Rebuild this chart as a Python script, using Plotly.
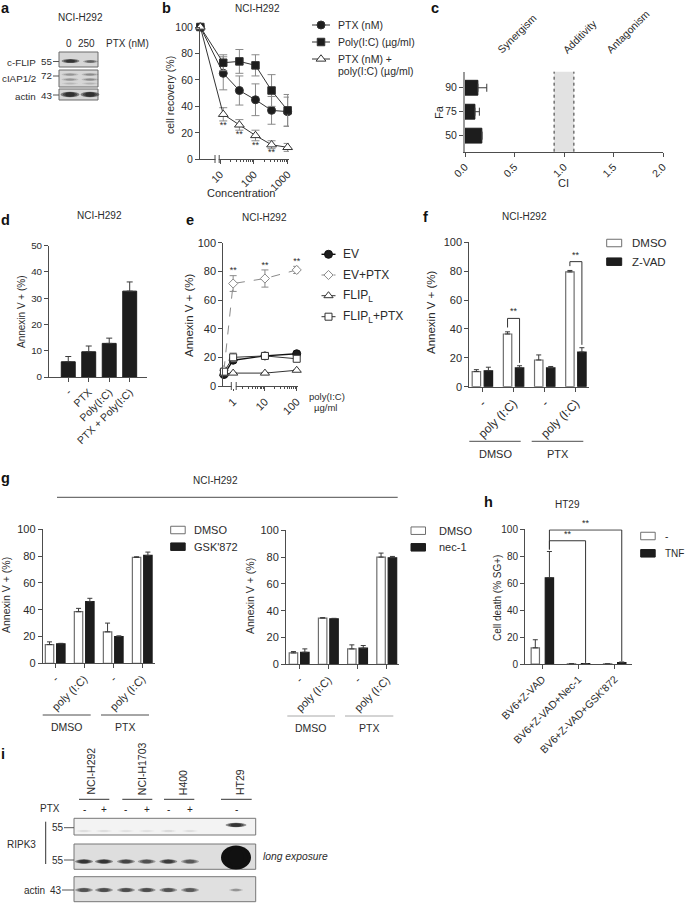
import plotly.graph_objects as go

W, H = 685, 903
FONT = "Liberation Sans, Arial, Helvetica, sans-serif"
TXT = "#2b2b2b"
AX = "#4d4d4d"
DARK = "#1d1d1d"
OPEN = "#6e6e6e"
ERR = "#3a3a3a"
GREYERR = "#8a8a8a"

# ---------------- data ----------------
# (a) western blot
A_LANES = ["0", "250"]
A_PROTEINS = ["c-FLIP", "cIAP1/2", "actin"]
A_MW = ["55", "72", "43"]

# (b) cell recovery
B_DOSE = [0, 12.3, 37, 111, 333, 1000]
B_TICKS = [10, 100, 1000]
B_PTX = [100, 65, 52, 45, 37, 36]
B_PTX_ERR = [0, 12.5, 11, 12, 10.5, 11]
B_POLY = [100, 73, 74, 71, 52, 37]
B_POLY_ERR = [0, 6, 9, 8, 12, 12]
B_COMBO = [100, 34, 26, 18, 11, 9]
B_COMBO_ERR = [0, 5, 4, 4, 3, 3]
B_SIG = ["", "**", "**", "**", "**", ""]
B_NAMES = ["PTX (nM)", "Poly(I:C) (µg/ml)", "PTX (nM) +", "poly(I:C) (µg/ml)"]

# (c) combination index
C_FA = ["50", "75", "90"]
C_CI = [0.17, 0.10, 0.13]
C_CI_ERR = [0.0, 0.045, 0.09]
C_ADD = [0.9, 1.1]
C_ZONES = ["Synergism", "Additivity", "Antagonism"]
C_ZONE_AT = [0.53, 1.16, 1.65]

# (d)
D_CATS = ["-", "PTX", "Poly(I:C)", "PTX + Poly(I:C)"]
D_VAL = [5.8, 9.6, 12.8, 32.7]
D_ERR = [2.0, 2.2, 2.0, 3.5]

# (e)
E_DOSE = [0, 1, 10, 100]
E_TICKS = [1, 10, 100]
E_EV = [8, 18, 21, 22.5]
E_EV_ERR = [1.5, 1.5, 1.5, 1.5]
E_EVPTX = [11, 71.5, 75, 81]
E_EVPTX_ERR = [1.5, 5.5, 6, 2.5]
E_FLIP = [8.5, 9, 9, 11]
E_FLIP_ERR = [0.5, 0.5, 0.5, 0.5]
E_FLIPPTX = [10, 20, 21, 19]
E_FLIPPTX_ERR = [1, 3, 1.5, 1]
E_SIG = ["", "**", "**", "**"]
E_NAMES = ["EV", "EV+PTX", "FLIP<sub>L</sub>", "FLIP<sub>L</sub>+PTX"]

# (f)
F_CATS = ["-", "poly (I:C)", "-", "poly (I:C)"]
F_GROUPS = ["DMSO", "PTX"]
F_DMSO = [10.5, 36.5, 18.5, 79.5]
F_DMSO_ERR = [1.3, 1.5, 3.5, 1.0]
F_ZVAD = [11, 13, 13, 24]
F_ZVAD_ERR = [2.5, 1.5, 1.0, 3.0]
F_SIG_CAT = [1, 3]
F_SIG_Y = [47.3, 86.6]
F_NAMES = ["DMSO", "Z-VAD"]

# (g)
G_CATS = ["-", "poly (I:C)", "-", "poly (I:C)"]
GL_DMSO = [14, 38.5, 23.5, 79]
GL_DMSO_ERR = [2, 2.5, 6.5, 0.5]
GL_GSK = [14.5, 46, 20, 80.5]
GL_GSK_ERR = [0.4, 2.5, 0.5, 2.5]
GR_DMSO = [8.5, 34.5, 11.5, 80]
GR_DMSO_ERR = [1, 0.3, 3, 3]
GR_NEC = [9, 34, 12, 79.5]
GR_NEC_ERR = [2.5, 0.3, 2, 1]
GL_NAMES = ["DMSO", "GSK'872"]
GR_NAMES = ["DMSO", "nec-1"]

# (h)
H_CATS = ["BV6+Z-VAD", "BV6+Z-VAD+Nec-1", "BV6+Z-VAD+GSK'872"]
H_CTRL = [12, 0.2, 0.1]
H_CTRL_ERR = [6, 0, 0]
H_TNF = [64, 0.3, 1.0]
H_TNF_ERR = [19.5, 0, 0.5]
H_SIG_TO = [1, 2]
H_SIG_Y = [91.5, 99.5]
H_NAMES = ["-", "TNF"]

# (i) western blot
I_CELLS = ["NCI-H292", "NCI-H1703", "H400", "HT29"]
I_PTX = ["-", "+", "-", "+", "-", "+", "-"]
I_RIPK3_SHORT = [0.07, 0.07, 0.05, 0.05, 0.08, 0.06, 1.0]
I_RIPK3_LONG = [0.95, 0.95, 0.8, 0.7, 0.9, 0.65, 1.0]
I_ACTIN = [0.7, 0.75, 0.75, 0.75, 0.7, 0.65, 0.3]

# ---------------- helpers ----------------
fig = go.Figure()
shapes = []
annotations = []


def px_x(x):
    return x / W


def px_y(y):
    return 1 - y / H


def xdom(x0, x1):
    return [x0 / W, x1 / W]


def ydom(y0, y1):
    return [1 - y1 / H, 1 - y0 / H]


def add_text(x, y, s, size=10, xa="center", ya="middle", angle=0, color=TXT):
    annotations.append(dict(xref="paper", yref="paper", x=px_x(x), y=px_y(y), text=s,
                            showarrow=False, xanchor=xa, yanchor=ya, textangle=angle,
                            borderpad=0, font=dict(size=size, color=color, family=FONT)))


def add_rect(x0, y0, x1, y1, fill, line=None, lw=1):
    shapes.append(dict(type="rect", xref="paper", yref="paper", x0=px_x(x0), x1=px_x(x1),
                       y0=px_y(y1), y1=px_y(y0), fillcolor=fill,
                       line=dict(color=line if line else fill, width=lw if line else 0),
                       layer="above"))


def add_line(x0, y0, x1, y1, color=AX, lw=1, dash="solid"):
    shapes.append(dict(type="line", xref="paper", yref="paper", x0=px_x(x0), x1=px_x(x1),
                       y0=px_y(y0), y1=px_y(y1), line=dict(color=color, width=lw, dash=dash),
                       layer="above"))


def add_band(cx, cy, w, h, strength, color="#111111"):
    for s in (1.0, 0.75, 0.5):
        hh = h * (0.6 + 0.4 * s)
        shapes.append(dict(type="circle", xref="paper", yref="paper",
                           x0=px_x(cx - w * s / 2), x1=px_x(cx + w * s / 2),
                           y0=px_y(cy + hh / 2), y1=px_y(cy - hh / 2),
                           fillcolor=color, opacity=min(1, strength / 2.2),
                           line=dict(width=0), layer="above"))


def ax(fs=10, **kw):
    d = dict(showline=True, linecolor=AX, linewidth=1, ticks="outside", ticklen=4,
             tickwidth=1, tickcolor=AX, showgrid=False, zeroline=False, fixedrange=True,
             automargin=False, tickfont=dict(size=fs, color=TXT, family=FONT))
    d.update(kw)
    return d


def bar_pair(xa, ya, v1, e1, v2, e2, w, d):
    n = len(v1)
    x = list(range(n))
    for vals, errs, off, is_open in ((v1, e1, -d / 2 - w / 2, True), (v2, e2, d / 2 - w / 2, False)):
        fig.add_trace(go.Bar(
            x=x, y=vals, width=w, offset=off, xaxis=xa, yaxis=ya,
            marker=dict(color="white" if is_open else DARK,
                        line=dict(color=OPEN if is_open else DARK, width=1.2)),
            error_y=dict(type="data", symmetric=False, array=errs, arrayminus=[0] * n,
                         color=ERR, thickness=1, width=2.5),
            hoverinfo="skip", showlegend=False))


def box_legend(x0, rows, names, tx, size=11, bw=15, bh=7.5):
    for i, (yy, nm) in enumerate(zip(rows, names)):
        if i == 0:
            add_rect(x0, yy - bh / 2, x0 + bw, yy + bh / 2, "white", OPEN, 1)
        else:
            add_rect(x0, yy - bh / 2, x0 + bw, yy + bh / 2, DARK, DARK, 1)
        add_text(tx, yy, nm, size, xa="left")


def group_labels(lines, labels, ly, ty, size=11, color=AX):
    for (a, b), lab in zip(lines, labels):
        add_line(a, ly, b, ly, color, 1)
        add_text((a + b) / 2, ty, lab, size)


def sig_text(xa, ya, xs, ys, labels, pos):
    keep = [(x, y, t) for x, y, t in zip(xs, ys, labels) if t]
    fig.add_trace(go.Scatter(
        x=[k[0] for k in keep], y=[k[1] for k in keep], xaxis=xa, yaxis=ya,
        mode="text", text=[k[2] for k in keep], textposition=pos,
        textfont=dict(size=9, color=TXT, family=FONT), cliponaxis=False,
        hoverinfo="skip", showlegend=False))


# ---------------- panel letters ----------------
for ch, x, y in [("a", 5, 8), ("b", 166, 8), ("c", 435, 8), ("d", 5, 220), ("e", 190, 220),
                 ("f", 426, 217), ("g", 5, 478), ("h", 488, 502), ("i", 3, 754)]:
    add_text(x, y, "<b>%s</b>" % ch, 14.5, color="#111111")

# ---------------- (a) blot ----------------
add_text(80, 17, "NCI-H292", 10)
for lab, x in zip(A_LANES, [68.5, 86.5]):
    add_text(x, 43, lab, 10)
add_text(105, 43, "PTX (nM)", 10, xa="left")
A_BOX_Y = [(52, 67), (70, 87), (89, 100)]
A_LABEL_Y = [62, 78, 96]
A_MW_Y = [61.5, 76, 95]
for (y0, y1), name, mw, ly, my in zip(A_BOX_Y, A_PROTEINS, A_MW, A_LABEL_Y, A_MW_Y):
    add_rect(59, y0, 98, y1, "#d6d6d6", "#6a6a6a", 1)
    add_text(37, ly, name, 9.8, xa="right")
    add_text(46.5, my, mw, 9.8)
    add_line(53, my, 59, my, "#555555", 1)
add_band(70.5, 61, 18, 4, 0.95)
add_band(90.5, 61.5, 15, 3, 0.55)
for yy in (74.5, 79.5):
    add_band(70, yy, 17, 2.5, 0.28)
    add_band(90, yy, 17, 2.5, 0.32)
add_band(70, 83.5, 16, 2, 0.12)
add_band(90, 83.5, 16, 2, 0.14)
add_band(70, 94.5, 19, 5.5, 1.0)
add_band(90, 94.5, 19, 5.5, 1.0)

# ---------------- (b) ----------------
B_ZERO = 10 ** 0.41
bx = [B_ZERO if d == 0 else d for d in B_DOSE]
B_STYLE = [(B_PTX, B_PTX_ERR, "circle", DARK, 8),
           (B_POLY, B_POLY_ERR, "square", DARK, 7.5),
           (B_COMBO, B_COMBO_ERR, "triangle-up", "white", 8.5)]
for ys, es, sym, fill, sz in B_STYLE:
    fig.add_trace(go.Scatter(
        x=bx, y=ys, xaxis="x", yaxis="y", mode="lines+markers",
        line=dict(color="#333333", width=1),
        marker=dict(symbol=sym, size=sz, color=fill, line=dict(color="#333333", width=1)),
        error_y=dict(type="data", array=es, color=GREYERR, thickness=1, width=4),
        cliponaxis=False, hoverinfo="skip", showlegend=False))
sig_text("x", "y", bx, [c - e for c, e in zip(B_COMBO, B_COMBO_ERR)], B_SIG, "bottom center")
add_text(257, 8.5, "NCI-H292", 10)
add_text(170, 95, "cell recovery (%)", 10.5, angle=-90)
add_text(241, 193, "Concentration", 11)
# axis break marks
add_rect(215.5, 156, 218.7, 162, "white")
add_line(215, 155, 215, 163, AX, 1)
add_line(219.2, 155, 219.2, 163, AX, 1)

# legend b
LEG_B_Y = [25, 42, 59]
for yy, (ys, es, sym, fill, sz) in zip(LEG_B_Y, B_STYLE):
    fig.add_trace(go.Scatter(x=[312, 330], y=[yy, yy], xaxis="x9", yaxis="y9", mode="lines",
                             line=dict(color="#333333", width=1), hoverinfo="skip",
                             showlegend=False, cliponaxis=False))
    fig.add_trace(go.Scatter(x=[321], y=[yy], xaxis="x9", yaxis="y9", mode="markers",
                             marker=dict(symbol=sym, size=sz, color=fill,
                                         line=dict(color="#333333", width=1)),
                             hoverinfo="skip", showlegend=False, cliponaxis=False))
for txt, yy in zip(B_NAMES, [25, 42, 59, 71]):
    add_text(337, yy, txt, 10.5, xa="left")

# ---------------- (c) ----------------
fig.add_trace(go.Bar(
    y=[0, 1, 2], x=C_CI, orientation="h", width=0.62, xaxis="x2", yaxis="y2",
    marker=dict(color=DARK, line=dict(color=DARK, width=1)),
    error_x=dict(type="data", symmetric=False, array=C_CI_ERR, arrayminus=[0, 0, 0],
                 color=ERR, thickness=1, width=4),
    hoverinfo="skip", showlegend=False))
shapes.append(dict(type="rect", xref="x2", yref="y2 domain", x0=C_ADD[0], x1=C_ADD[1],
                   y0=0, y1=1, fillcolor="#e2e2e2", line=dict(width=0), layer="below"))
for xv in C_ADD:
    shapes.append(dict(type="line", xref="x2", yref="y2 domain", x0=xv, x1=xv, y0=0, y1=1,
                       line=dict(color="#333333", width=1, dash="dot"), layer="above"))
for lab, xv in zip(C_ZONES, C_ZONE_AT):
    annotations.append(dict(xref="x2", yref="paper", x=xv, y=px_y(58), text=lab,
                            showarrow=False, xanchor="center", yanchor="bottom",
                            textangle=-45, font=dict(size=10.5, color=TXT, family=FONT)))
add_text(563, 183, "CI", 11)
add_text(439, 112, "Fa", 11, angle=-90)

# ---------------- (d) ----------------
fig.add_trace(go.Bar(
    x=list(range(len(D_CATS))), y=D_VAL, width=0.68, xaxis="x3", yaxis="y3",
    marker=dict(color=DARK, line=dict(color=DARK, width=1)),
    error_y=dict(type="data", symmetric=False, array=D_ERR, arrayminus=[0] * 4,
                 color=ERR, thickness=1, width=3),
    hoverinfo="skip", showlegend=False))
add_text(100, 215, "NCI-H292", 10)
add_text(21, 312, "Annexin V + (%)", 10, angle=-90)

# ---------------- (e) ----------------
E_ZERO = 10 ** -0.29
ex = [E_ZERO if d == 0 else d for d in E_DOSE]
E_STYLE = [
    (E_EV, E_EV_ERR, "circle", DARK, "#111111", "solid", 1.4, 8),
    (E_EVPTX, E_EVPTX_ERR, "diamond", "white", "#8a8a8a", "dash", 1, 7),
    (E_FLIP, E_FLIP_ERR, "triangle-up", "white", "#333333", "solid", 1, 8),
    (E_FLIPPTX, E_FLIPPTX_ERR, "square", "white", "#333333", "solid", 1, 7),
]
for ys, es, sym, fill, lc, dash, lw, sz in E_STYLE:
    fig.add_trace(go.Scatter(
        x=ex, y=ys, xaxis="x4", yaxis="y4", mode="lines+markers",
        line=dict(color=lc, width=lw, dash=dash),
        marker=dict(symbol=sym, size=sz, color=fill, line=dict(color=lc, width=1)),
        error_y=dict(type="data", array=es, color=GREYERR, thickness=1, width=3.5),
        cliponaxis=False, hoverinfo="skip", showlegend=False))
sig_text("x4", "y4", ex, [v + e for v, e in zip(E_EVPTX, E_EVPTX_ERR)], E_SIG, "top center")
add_text(264, 218, "NCI-H292", 10)
add_text(189, 315, "Annexin V + (%)", 11.5, angle=-90)
add_text(308, 397, "poly(I:C)", 9.5, xa="left")
add_text(338, 407.5, "µg/ml", 9.5, xa="right")
add_rect(231.6, 383, 235.8, 389, "white")
add_line(231.3, 382, 231.3, 390, AX, 1)
add_line(236.2, 382, 236.2, 390, AX, 1)
LEG_E_Y = [254.3, 275, 295.7, 316.7]
for yy, (ys, es, sym, fill, lc, dash, lw, sz), nm in zip(LEG_E_Y, E_STYLE, E_NAMES):
    fig.add_trace(go.Scatter(x=[321.5, 335.5], y=[yy, yy], xaxis="x9", yaxis="y9", mode="lines",
                             line=dict(color=lc, width=lw, dash="dot" if dash == "dash" else dash),
                             hoverinfo="skip", showlegend=False, cliponaxis=False))
    fig.add_trace(go.Scatter(x=[328.5], y=[yy], xaxis="x9", yaxis="y9", mode="markers",
                             marker=dict(symbol=sym, size=sz, color=fill, line=dict(color=lc, width=1)),
                             hoverinfo="skip", showlegend=False, cliponaxis=False))
    add_text(341.7, yy, nm, 12, xa="left")

# ---------------- (f) ----------------
FW, FD = 0.27, 0.385
bar_pair("x5", "y5", F_DMSO, F_DMSO_ERR, F_ZVAD, F_ZVAD_ERR, FW, FD)
for cat, yb in zip(F_SIG_CAT, F_SIG_Y):
    xl, xr = cat - FD / 2, cat + FD / 2
    yl = F_DMSO[cat] + F_DMSO_ERR[cat] + 3
    yr = F_ZVAD[cat] + F_ZVAD_ERR[cat] + 2
    shapes.append(dict(type="path", xref="x5", yref="y5",
                       path="M %f,%f L %f,%f L %f,%f L %f,%f" % (xl, yl, xl, yb, xr, yb, xr, yr),
                       line=dict(color="#333333", width=1), layer="above"))
    annotations.append(dict(xref="x5", yref="y5", x=cat, y=yb, text="**", showarrow=False,
                            yanchor="bottom", font=dict(size=9, color=TXT, family=FONT)))
add_text(524, 217, "NCI-H292", 10)
add_text(431, 312, "Annexin V + (%)", 11.5, angle=-90)
box_legend(606.7, [243, 261.7], F_NAMES, 630.7, 11.5)
group_labels([(469.3, 520.7), (531.7, 583.3)], F_GROUPS, 441.3, 453.5, 11)

# ---------------- (g) ----------------
add_text(215, 480, "NCI-H292", 10)
add_line(57, 497.3, 397.7, 497.3, AX, 1)
GW, GD = 0.29, 0.39
bar_pair("x6", "y6", GL_DMSO, GL_DMSO_ERR, GL_GSK, GL_GSK_ERR, GW, GD)
bar_pair("x7", "y7", GR_DMSO, GR_DMSO_ERR, GR_NEC, GR_NEC_ERR, GW, GD)
add_text(6, 595, "Annexin V + (%)", 10.5, angle=-90)
add_text(250, 596, "Annexin V + (%)", 10.5, angle=-90)
box_legend(170.7, [530, 546.7], GL_NAMES, 192.7, 11, bw=14.5)
box_legend(411, [530.7, 547.3], GR_NAMES, 438, 11, bw=14.5)
group_labels([(42.7, 90.7), (101, 149)], ["DMSO", "PTX"], 715, 727, 10.5)
group_labels([(287.3, 335), (345, 393.3)], ["DMSO", "PTX"], 716, 727.5, 10.5, "#a8a8a8")

# ---------------- (h) ----------------
HW, HD = 0.23, 0.39
bar_pair("x8", "y8", H_CTRL, H_CTRL_ERR, H_TNF, H_TNF_ERR, HW, HD)
for k, yb in zip(H_SIG_TO, H_SIG_Y):
    xl, xr = 0 + HD / 2, k + HD / 2
    yl = H_TNF[0] + H_TNF_ERR[0] + 1.5
    yr = H_TNF[k] + H_TNF_ERR[k] + 0.5
    shapes.append(dict(type="path", xref="x8", yref="y8",
                       path="M %f,%f L %f,%f L %f,%f L %f,%f" % (xl, yl, xl, yb, xr, yb, xr, yr),
                       line=dict(color="#333333", width=1), layer="above"))
    annotations.append(dict(xref="x8", yref="y8", x=(xl + xr) / 2, y=yb, text="**",
                            showarrow=False, yanchor="bottom",
                            font=dict(size=9, color=TXT, family=FONT)))
add_text(567, 505, "HT29", 10)
add_text(497, 598, "Cell death (% SG+)", 10, angle=-90)
box_legend(640.7, [536, 553.3], H_NAMES, 664, 10, bw=14.5)

# ---------------- (i) blot ----------------
I_CELL_X = [90, 141.7, 182.7, 240]
I_CELL_LINES = [(79, 109.3), (122.3, 152.3), (164, 194.3), (221, 251.7)]
for nm, x, (a, b) in zip(I_CELLS, I_CELL_X, I_CELL_LINES):
    add_text(x, 796, nm, 10.5, ya="bottom", angle=-90)
    add_line(a, 799.3, b, 799.3, "#333333", 1)
I_LANE_X = [84, 104, 126, 146.7, 168.3, 190, 236]
add_text(61, 808.5, "PTX", 10, xa="right")
for s, x in zip(I_PTX, I_LANE_X):
    add_text(x, 809, s, 10, color="#222222")
add_rect(74, 818.3, 255.7, 835, "#f3f3f3", "#777777", 1)
add_rect(74, 844, 255.7, 869.3, "#dedede", "#777777", 1)
add_rect(74, 876.7, 255.7, 901.7, "#e0e0e0", "#777777", 1)
for x, s in zip(I_LANE_X, I_RIPK3_SHORT):
    if x > 200:
        add_band(x, 825, 21, 4.5, s)
    else:
        add_band(x, 831, 16, 2.5, s)
for x, s in zip(I_LANE_X, I_RIPK3_LONG):
    if x > 200:
        add_band(x, 857.5, 30, 24, 2.2 * s)
    else:
        add_band(x, 861.5, 18, 4.5, s)
for x, s in zip(I_LANE_X, I_ACTIN):
    add_band(x, 890, 18 if x < 200 else 14, 4.5 if x < 200 else 3, s)
add_text(58.3, 827.7, "55", 10)
add_line(64, 827.7, 74, 827.7, "#555555", 1)
add_text(58.3, 860, "55", 10)
add_line(64, 860, 74, 860, "#555555", 1)
add_text(45.5, 890, "actin", 10, xa="right")
add_text(56.5, 890, "43", 10)
add_line(62, 890, 74, 890, "#555555", 1)
add_text(21, 844, "RIPK3", 10)
add_line(45.7, 821.7, 45.7, 864, "#333333", 1)
add_text(261.7, 856, "<i>long exposure</i>", 10.3, xa="left")

# ---------------- layout ----------------
LOG_MINOR_B = [m * 10 ** k for k in (1, 2) for m in range(2, 10)]
LOG_MINOR_E = [m * 10 ** k for k in (0, 1) for m in range(2, 10)]

layout = dict(
    template="none",
    width=W, height=H, autosize=False,
    margin=dict(l=0, r=0, t=0, b=0, pad=0),
    paper_bgcolor="white", plot_bgcolor="rgba(0,0,0,0)",
    font=dict(family=FONT, color=TXT, size=10),
    showlegend=False, barmode="overlay",
    shapes=shapes, annotations=annotations,
    xaxis=ax(fs=10.5, domain=xdom(200, 289), anchor="y", type="log", range=[0.40, 3.04],
             tickmode="array", tickvals=B_TICKS, ticktext=[str(t) for t in B_TICKS],
             tickangle=-45,
             minor=dict(tickmode="array", tickvals=LOG_MINOR_B, ticks="outside", ticklen=2,
                        tickcolor=AX)),
    yaxis=ax(fs=10.5, domain=ydom(27, 159.3), anchor="x", range=[0, 100], dtick=20, tick0=0),
    xaxis2=ax(fs=10.5, domain=xdom(465, 663), anchor="y2", range=[0, 2], dtick=0.5, tick0=0,
              tickformat=".1f", tickangle=-45),
    yaxis2=ax(fs=10.5, domain=ydom(71.7, 151.7), anchor="x2", range=[-0.67, 2.67],
              tickmode="array", tickvals=[0, 1, 2], ticktext=C_FA,
              linecolor="#9a9a9a", linewidth=2),
    xaxis3=ax(fs=10.5, domain=xdom(49, 146.7), anchor="y3", range=[-0.94, 3.83],
              tickmode="array", tickvals=list(range(len(D_CATS))), ticktext=D_CATS,
              tickangle=-45),
    yaxis3=ax(fs=9.8, domain=ydom(245.7, 377), anchor="x3", range=[0, 50], dtick=10, tick0=0),
    xaxis4=ax(fs=11, domain=xdom(223.3, 298.3), anchor="y4", type="log", range=[-0.31, 2.05],
              tickmode="array", tickvals=E_TICKS, ticktext=[str(t) for t in E_TICKS],
              tickangle=-45,
              minor=dict(tickmode="array", tickvals=LOG_MINOR_E, ticks="outside", ticklen=2,
                         tickcolor=AX)),
    yaxis4=ax(fs=11, domain=ydom(242.7, 386), anchor="x4", range=[0, 100], dtick=20, tick0=0),
    xaxis5=ax(fs=12, domain=xdom(469.3, 589.3), anchor="y5", range=[-0.42, 3.43],
              tickmode="array", tickvals=list(range(4)), ticktext=F_CATS, tickangle=-45),
    yaxis5=ax(fs=11, domain=ydom(242.3, 386.7), anchor="x5", range=[0, 100], dtick=20, tick0=0),
    xaxis6=ax(fs=11, domain=xdom(42.7, 155), anchor="y6", range=[-0.43, 3.44],
              tickmode="array", tickvals=list(range(4)), ticktext=G_CATS, tickangle=-45),
    yaxis6=ax(fs=11, domain=ydom(529.3, 663.3), anchor="x6", range=[0, 100], dtick=20, tick0=0),
    xaxis7=ax(fs=11, domain=xdom(286, 399.3), anchor="y7", range=[-0.45, 3.43],
              tickmode="array", tickvals=list(range(4)), ticktext=G_CATS, tickangle=-45),
    yaxis7=ax(fs=11, domain=ydom(530.3, 664.3), anchor="x7", range=[0, 100], dtick=20, tick0=0),
    xaxis8=ax(fs=10.5, domain=xdom(525, 631.7), anchor="y8", range=[-0.48, 2.47],
              tickmode="array", tickvals=list(range(3)), ticktext=H_CATS, tickangle=-45),
    yaxis8=ax(fs=10, domain=ydom(529.3, 664), anchor="x8", range=[0, 100], dtick=20, tick0=0),
    xaxis9=dict(domain=[0, 1], range=[0, W], visible=False, fixedrange=True, anchor="y9",
                automargin=False),
    yaxis9=dict(domain=[0, 1], range=[H, 0], visible=False, fixedrange=True, anchor="x9",
                automargin=False),
)
fig.update_layout(**layout)
fig.write_html("out.html", config=dict(staticPlot=True),
               post_script="document.body.style.margin='0';document.body.style.padding='0';"
                           "document.documentElement.style.overflow='hidden';")
